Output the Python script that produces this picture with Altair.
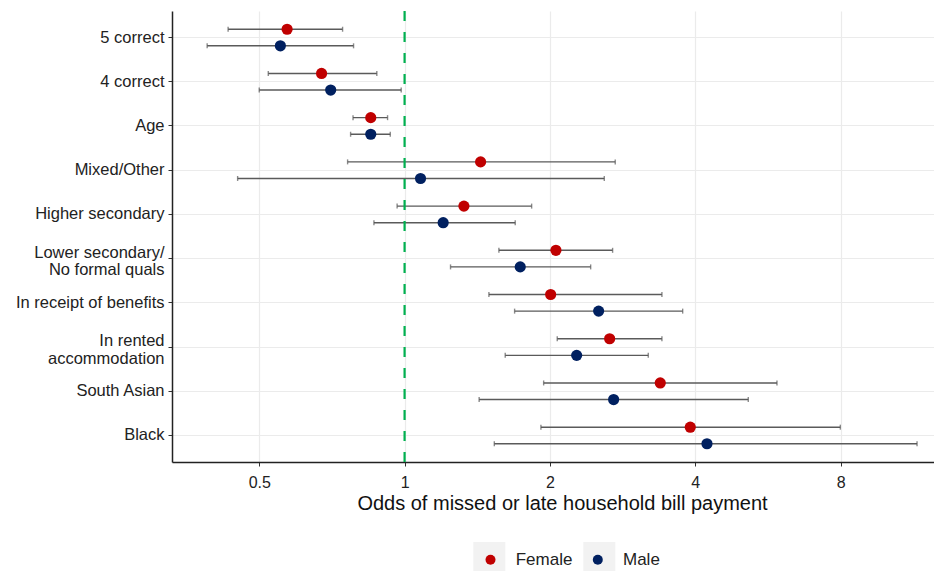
import altair as alt
import pandas as pd

categories = [
    "5 correct",
    "4 correct",
    "Age",
    "Mixed/Other",
    "Higher secondary",
    "Lower secondary/\nNo formal quals",
    "In receipt of benefits",
    "In rented\naccommodation",
    "South Asian",
    "Black",
]
female_or = [0.571, 0.673, 0.851, 1.437, 1.327, 2.058, 2.007, 2.659, 3.385, 3.906]
female_lo = [0.431, 0.522, 0.782, 0.762, 0.965, 1.568, 1.495, 2.071, 1.941, 1.916]
female_hi = [0.744, 0.876, 0.922, 2.731, 1.833, 2.697, 3.412, 3.412, 5.906, 7.990]
male_or = [0.553, 0.703, 0.851, 1.079, 1.202, 1.736, 2.523, 2.272, 2.710, 4.230]
male_lo = [0.390, 0.500, 0.773, 0.451, 0.864, 1.245, 1.690, 1.616, 1.427, 1.534]
male_hi = [0.784, 0.984, 0.934, 2.592, 1.695, 2.429, 3.767, 3.197, 5.151, 11.52]
x_ticks = [0.5, 1, 2, 4, 8]
groups = ["Female", "Male"]
group_colors = ["#C00000", "#002060"]

rows = []
for i, c in enumerate(categories):
    rows.append({"category": c, "sex": "Female", "or": female_or[i], "lo": female_lo[i], "hi": female_hi[i]})
    rows.append({"category": c, "sex": "Male", "or": male_or[i], "lo": male_lo[i], "hi": male_hi[i]})
df = pd.DataFrame(rows)

FONT = "Liberation Sans"

xscale = alt.Scale(type="log", base=2, domain=[0.3298, 12.49], nice=False, padding=0)
y_enc = alt.Y(
    "category:N",
    sort=categories,
    scale=alt.Scale(paddingInner=0, paddingOuter=0.1),
    axis=alt.Axis(
        title=None,
        bandPosition=0.5,
        labelExpr="split(datum.label, '\\n')",
        labelFont=FONT,
        labelFontSize=16.5,
        labelColor="#222222",
        labelPadding=4,
        labelLineHeight=17.5,
        labelOffset={"condition": {"test": "indexof(datum.value, '\\n') >= 0", "value": -6}, "value": 0},
        tickSize=4,
        tickColor="#333333",
        domainColor="#222222",
        domainWidth=1.5,
        grid=True,
        gridColor="#EBEBEB",
        gridWidth=1.2,
    ),
)
yoff = alt.YOffset(
    "sex:N",
    scale=alt.Scale(domain=groups, paddingInner=0, paddingOuter=0.333),
)
x_axis = alt.Axis(
    values=x_ticks,
    format="~g",
    title="Odds of missed or late household bill payment",
    titleFont=FONT,
    titleFontSize=20,
    titleFontWeight="normal",
    titleColor="#111111",
    titlePadding=3,
    titleX=390,
    labelFont=FONT,
    labelFontSize=16,
    labelColor="#222222",
    labelPadding=8,
    tickSize=4,
    tickColor="#333333",
    domainColor="#222222",
    domainWidth=1.5,
    grid=True,
    gridColor="#EBEBEB",
    gridWidth=1.2,
)

base = alt.Chart(df)

# grey legend key backgrounds, shown only in a legend (no marks drawn)
key_bg = base.mark_square(opacity=1).encode(
    color=alt.Color(
        "sex:N",
        scale=alt.Scale(domain=groups, range=["#F2F2F2", "#F2F2F2"]),
        legend=alt.Legend(
            title=None,
            orient="none",
            direction="horizontal",
            legendX=301.3,
            legendY=531,
            symbolType="square",
            symbolSize=1024,
            symbolStrokeWidth=0,
            symbolOpacity=1,
            labelExpr="''",
            labelOffset=0,
            columnPadding=78,
        ),
    ),
).transform_filter("false")

bars = base.mark_rule(color="#5A5A5A", strokeWidth=1.4).encode(
    x=alt.X("lo:Q", scale=xscale, axis=x_axis),
    x2="hi:Q",
    y=y_enc,
    yOffset=yoff,
)
cap_lo = base.mark_tick(color="#5A5A5A", size=5, thickness=1.4, orient="vertical").encode(
    x=alt.X("lo:Q", scale=xscale), y=y_enc, yOffset=yoff
)
cap_hi = base.mark_tick(color="#5A5A5A", size=5, thickness=1.4, orient="vertical").encode(
    x=alt.X("hi:Q", scale=xscale), y=y_enc, yOffset=yoff
)
ref = alt.Chart(pd.DataFrame({"ref": [1]})).mark_rule(
    color="#00B050", strokeWidth=2.2, strokeDash=[10, 11]
).encode(x=alt.X("ref:Q", scale=xscale))

points = base.mark_circle(size=125, opacity=1).encode(
    x=alt.X("or:Q", scale=xscale),
    y=y_enc,
    yOffset=yoff,
    color=alt.Color(
        "sex:N",
        scale=alt.Scale(domain=groups, range=group_colors),
        legend=alt.Legend(
            title=None,
            orient="none",
            direction="horizontal",
            legendX=310,
            legendY=540,
            symbolType="circle",
            symbolSize=100,
            symbolOpacity=1,
            labelFont=FONT,
            labelFontSize=17,
            labelColor="#222222",
            labelOffset=16.7,
            columnPadding=16.3,
        ),
    ),
)

chart = (
    alt.layer(key_bg, bars, cap_lo, cap_hi, ref, points)
    .resolve_scale(color="independent")
    .resolve_legend(color="independent")
    .properties(
        width=762,
        height=451,
        autosize=alt.AutoSizeParams(type="none"),
        padding={"left": 164, "top": 3, "right": 0, "bottom": 109},
        background="white",
    )
    .configure_view(stroke=None)
)

chart.save("out.html", embed_options={"renderer": "svg", "actions": False})
